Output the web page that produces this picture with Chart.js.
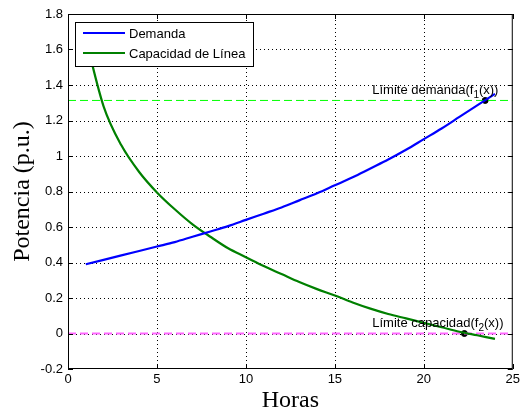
<!DOCTYPE html>
<html>
<head>
  <title>Demanda vs Capacidad</title>
  <script src="https://cdn.jsdelivr.net/npm/chart.js"></script>
  <style>
    body { margin: 0; background: #fff; }
    canvas { display: block; }
  </style>
</head>
<body>
  <canvas id="potChart" width="523" height="412"></canvas>

  <script>
    // hours and the two curves
    const horas = [1, 2, 3, 4, 5, 6, 7, 8, 9, 10, 11, 12, 13, 14, 15, 16, 17, 18, 19, 20, 21, 22, 23, 24];
    const demanda = [0.39, 0.415, 0.44, 0.465, 0.49, 0.515, 0.545, 0.575, 0.605, 0.64, 0.675, 0.71,
                     0.75, 0.79, 0.835, 0.88, 0.93, 0.98, 1.035, 1.095, 1.155, 1.22, 1.285, 1.35];
    const capacidad = [1.66, 1.28, 1.06, 0.91, 0.795, 0.70, 0.615, 0.545, 0.48, 0.43, 0.38, 0.335,
                       0.29, 0.25, 0.214, 0.175, 0.14, 0.11, 0.085, 0.06, 0.035, 0.01, -0.01, -0.03];

    // limits and the points where the curves reach them
    const limiteDemanda = 1.313;
    const limiteCapacidad = 0;
    const puntoDemanda = [23.45, 1.313];
    const puntoCapacidad = [22.28, 0];

    const xTicks = [0, 5, 10, 15, 20, 25];
    const yTicks = [-0.2, 0, 0.2, 0.4, 0.6, 0.8, 1, 1.2, 1.4, 1.6, 1.8];

    const smallFont = '13px "Liberation Sans", Arial, sans-serif';
    const subFont = '10px "Liberation Sans", Arial, sans-serif';
    const bigFont = '24px "Liberation Serif", "Times New Roman", serif';

    const toXY = (xs, ys) => xs.map((x, i) => ({ x: x, y: ys[i] }));

    // dotted grid under the lines
    const dottedGrid = {
      id: 'dottedGrid',
      beforeDatasetsDraw(chart) {
        const ctx = chart.ctx;
        const a = chart.chartArea;
        const xs = chart.scales.x, ys = chart.scales.y;
        ctx.save();
        ctx.strokeStyle = '#000';
        ctx.lineWidth = 1;
        ctx.setLineDash([1, 3]);
        ctx.beginPath();
        xTicks.slice(1, -1).forEach(t => {
          const px = Math.round(xs.getPixelForValue(t)) + 0.5;
          ctx.moveTo(px, a.bottom); ctx.lineTo(px, a.top);
        });
        yTicks.slice(1, -1).forEach(t => {
          const py = Math.round(ys.getPixelForValue(t)) + 0.5;
          ctx.moveTo(a.left, py); ctx.lineTo(a.right, py);
        });
        ctx.stroke();
        ctx.restore();
      }
    };

    // box, inward ticks, legend, axis titles and annotations, matlab style
    const matlabDecor = {
      id: 'matlabDecor',
      afterDraw(chart) {
        const ctx = chart.ctx;
        const a = chart.chartArea;
        const xs = chart.scales.x, ys = chart.scales.y;
        ctx.save();

        // frame
        ctx.strokeStyle = '#000';
        ctx.lineWidth = 1;
        ctx.strokeRect(a.left + 0.5, a.top + 0.5, a.right - a.left - 1, a.bottom - a.top - 1);

        // inward ticks on all sides
        ctx.beginPath();
        xTicks.forEach(t => {
          const px = Math.round(xs.getPixelForValue(t)) + 0.5;
          ctx.moveTo(px, a.bottom); ctx.lineTo(px, a.bottom - 5);
          ctx.moveTo(px, a.top); ctx.lineTo(px, a.top + 5);
        });
        yTicks.forEach(t => {
          const py = Math.round(ys.getPixelForValue(t)) + 0.5;
          ctx.moveTo(a.left, py); ctx.lineTo(a.left + 5, py);
          ctx.moveTo(a.right, py); ctx.lineTo(a.right - 5, py);
        });
        ctx.stroke();

        // annotations with subscripts
        function label(xv, yv, pre, sub, post) {
          let px = xs.getPixelForValue(xv);
          const py = ys.getPixelForValue(yv);
          ctx.fillStyle = '#000';
          ctx.textBaseline = 'alphabetic';
          ctx.textAlign = 'left';
          ctx.font = smallFont;
          ctx.fillText(pre, px, py);
          px += ctx.measureText(pre).width;
          ctx.font = subFont;
          ctx.fillText(sub, px, py + 4);
          px += ctx.measureText(sub).width;
          ctx.font = smallFont;
          ctx.fillText(post, px, py);
        }
        label(17.1, 1.352, 'Límite demanda(f', '1', '(x))');
        label(17.1, 0.039, 'Límite capacidad(f', '2', '(x))');

        // legend box
        const lx = 75, ly = 22, lw = 178, lh = 44;
        ctx.fillStyle = '#fff';
        ctx.fillRect(lx, ly, lw, lh);
        ctx.strokeStyle = '#000';
        ctx.lineWidth = 1;
        ctx.strokeRect(lx + 0.5, ly + 0.5, lw, lh);
        chart.data.datasets.slice(0, 2).forEach((ds, i) => {
          const y = 33 + i * 20;
          ctx.strokeStyle = ds.borderColor;
          ctx.lineWidth = 2;
          ctx.beginPath();
          ctx.moveTo(83, y); ctx.lineTo(125, y);
          ctx.stroke();
          ctx.fillStyle = '#000';
          ctx.font = smallFont;
          ctx.textAlign = 'left';
          ctx.textBaseline = 'middle';
          ctx.fillText(ds.label, 129, y + 1);
        });

        // axis titles
        ctx.fillStyle = '#000';
        ctx.font = bigFont;
        ctx.textAlign = 'center';
        ctx.textBaseline = 'alphabetic';
        ctx.fillText('Horas', (a.left + a.right) / 2, 407);
        ctx.translate(29, (a.top + a.bottom) / 2);
        ctx.rotate(-Math.PI / 2);
        ctx.fillText('Potencia (p.u.)', 0, 0);

        ctx.restore();
      }
    };

    const ctx = document.getElementById('potChart').getContext('2d');
    const chart = new Chart(ctx, {
      type: 'line',
      data: {
        datasets: [
          {
            label: 'Demanda',
            data: toXY(horas, demanda),
            borderColor: '#0000ff',
            borderWidth: 2.2,
            pointRadius: 0,
            cubicInterpolationMode: 'monotone'
          },
          {
            label: 'Capacidad de Línea',
            data: toXY(horas, capacidad),
            borderColor: '#008000',
            borderWidth: 2.2,
            pointRadius: 0,
            cubicInterpolationMode: 'monotone'
          },
          {
            label: 'limite demanda',
            data: toXY([0, 25], [limiteDemanda, limiteDemanda]),
            borderColor: '#00ff00',
            borderWidth: 1,
            borderDash: [8, 4],
            pointRadius: 0
          },
          {
            label: 'limite capacidad',
            data: toXY([0, 25], [limiteCapacidad, limiteCapacidad]),
            borderColor: '#ff66ff',
            borderWidth: 2,
            borderDash: [8, 4],
            pointRadius: 0
          },
          {
            label: 'puntos',
            data: [{ x: puntoDemanda[0], y: puntoDemanda[1] }, { x: puntoCapacidad[0], y: puntoCapacidad[1] }],
            showLine: false,
            pointRadius: 3,
            pointBackgroundColor: '#000',
            pointBorderColor: '#000'
          }
        ]
      },
      options: {
        responsive: false,
        animation: false,
        devicePixelRatio: 1,
        layout: { padding: { top: 14, right: 7, left: 0, bottom: 0 } },
        plugins: {
          legend: { display: false },
          tooltip: { enabled: false }
        },
        scales: {
          x: {
            type: 'linear',
            min: 0,
            max: 25,
            afterFit: s => { s.height = 43; },
            afterBuildTicks: s => { s.ticks = xTicks.map(v => ({ value: v })); },
            ticks: {
              color: '#000',
              font: { family: '"Liberation Sans", Arial, sans-serif', size: 13 },
              padding: 3,
              maxRotation: 0
            },
            grid: { display: false, drawTicks: false },
            border: { display: false }
          },
          y: {
            type: 'linear',
            min: -0.2,
            max: 1.8,
            afterFit: s => { s.width = 68; },
            afterBuildTicks: s => { s.ticks = yTicks.map(v => ({ value: v })); },
            ticks: {
              color: '#000',
              font: { family: '"Liberation Sans", Arial, sans-serif', size: 13 },
              padding: 5,
              callback: v => String(+v.toFixed(1))
            },
            grid: { display: false, drawTicks: false },
            border: { display: false }
          }
        }
      },
      plugins: [dottedGrid, matlabDecor]
    });
  </script>
</body>
</html>
